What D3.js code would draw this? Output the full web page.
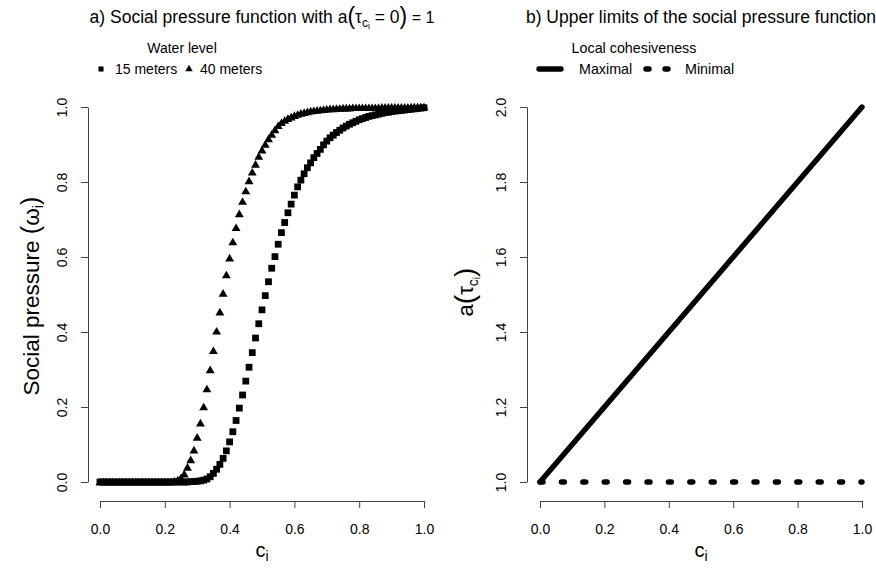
<!DOCTYPE html>
<html>
<head>
<meta charset="utf-8">
<script src="https://cdn.jsdelivr.net/npm/d3@7"></script>
<style>
  html, body { margin: 0; padding: 0; background: #fff; }
  svg { display: block; font-family: "Liberation Sans", Arial, sans-serif; }
</style>
</head>
<body>
<script>
// Cohesion level c_i sampled on a 0.01 grid
const cValues = [
  0.00,0.01,0.02,0.03,0.04,0.05,0.06,0.07,0.08,0.09,
  0.10,0.11,0.12,0.13,0.14,0.15,0.16,0.17,0.18,0.19,
  0.20,0.21,0.22,0.23,0.24,0.25,0.26,0.27,0.28,0.29,
  0.30,0.31,0.32,0.33,0.34,0.35,0.36,0.37,0.38,0.39,
  0.40,0.41,0.42,0.43,0.44,0.45,0.46,0.47,0.48,0.49,
  0.50,0.51,0.52,0.53,0.54,0.55,0.56,0.57,0.58,0.59,
  0.60,0.61,0.62,0.63,0.64,0.65,0.66,0.67,0.68,0.69,
  0.70,0.71,0.72,0.73,0.74,0.75,0.76,0.77,0.78,0.79,
  0.80,0.81,0.82,0.83,0.84,0.85,0.86,0.87,0.88,0.89,
  0.90,0.91,0.92,0.93,0.94,0.95,0.96,0.97,0.98,0.99,
  1.00
];

// Social pressure, water level 15 meters
const pressure15 = [
  0,0,0,0,0,0,0,0,0,0,
  0,0,0,0,0,0,0,0,0,0,
  0,0,0,0,0,0,0,0.000,0.001,0.001,
  0.002,0.003,0.005,0.008,0.014,0.023,0.034,0.047,0.063,0.083,
  0.107,0.134,0.164,0.197,0.232,0.269,0.306,0.345,0.384,0.422,
  0.459,0.497,0.534,0.570,0.601,0.634,0.665,0.692,0.718,0.741,
  0.765,0.787,0.805,0.822,0.838,0.851,0.865,0.876,0.887,0.899,
  0.909,0.918,0.925,0.932,0.938,0.944,0.949,0.954,0.958,0.962,
  0.966,0.969,0.972,0.975,0.977,0.979,0.981,0.983,0.985,0.986,
  0.988,0.989,0.990,0.991,0.992,0.993,0.994,0.995,0.996,0.997,
  0.998
];

// Social pressure, water level 40 meters
const pressure40 = [
  0,0,0,0,0,0,0,0,0,0,
  0,0,0,0,0,0,0,0,0,0,
  0,0,0.000,0.002,0.005,0.011,0.021,0.039,0.059,0.085,
  0.119,0.157,0.200,0.248,0.299,0.350,0.402,0.453,0.503,0.552,
  0.597,0.640,0.678,0.715,0.748,0.776,0.803,0.826,0.847,0.868,
  0.885,0.900,0.915,0.927,0.939,0.950,0.958,0.964,0.969,0.973,
  0.977,0.980,0.983,0.985,0.987,0.989,0.990,0.991,0.992,0.993,
  0.994,0.995,0.995,0.996,0.996,0.997,0.997,0.997,0.998,0.998,
  0.998,0.998,0.998,0.998,0.998,0.998,0.998,0.999,0.999,0.999,
  0.999,0.999,0.999,0.999,0.999,0.999,1.000,1.000,1.000,1.000,
  1.000
];

// Upper limits a(tau) against cohesion
const limitC = [0, 1];
const limitMaximal = [1, 2];
const limitMinimal = [1, 1];

// Tick labels
const xTicks = [0, 0.2, 0.4, 0.6, 0.8, 1.0];
const yTicksA = [0, 0.2, 0.4, 0.6, 0.8, 1.0];
const yTicksB = [1.0, 1.2, 1.4, 1.6, 1.8, 2.0];

const W = 876, H = 571;
const svg = d3.select("body").append("svg").attr("width", W).attr("height", H);
const fmt = d3.format(".1f");
const TICK_FONT = 14;

// Panel scales
const xA = d3.scaleLinear().domain([0, 1]).range([100, 424]);
const yA = d3.scaleLinear().domain([0, 1]).range([482, 107]);
const xB = d3.scaleLinear().domain([0, 1]).range([540, 862]);
const yB = d3.scaleLinear().domain([1, 2]).range([482, 107]);

function styleAxis(g) {
  g.select(".domain").attr("stroke", "#444").attr("stroke-width", 1);
  g.selectAll(".tick line").attr("stroke", "#444").attr("stroke-width", 1);
  g.selectAll(".tick text").attr("fill", "#000").style("font-size", TICK_FONT + "px")
    .style("font-family", '"Liberation Sans", Arial, sans-serif');
}

function drawXAxis(scale, yPos) {
  const g = svg.append("g").attr("transform", `translate(0,${yPos})`)
    .call(d3.axisBottom(scale).tickValues(xTicks).tickFormat(fmt)
      .tickSize(7).tickSizeOuter(0).tickPadding(16));
  styleAxis(g);
}

function drawYAxis(scale, xPos, ticks) {
  const g = svg.append("g").attr("transform", `translate(${xPos},0)`)
    .call(d3.axisLeft(scale).tickValues(ticks).tickFormat(fmt)
      .tickSize(7).tickSizeOuter(0));
  styleAxis(g);
  // labels run parallel to the axis
  g.selectAll(".tick text")
    .attr("x", null).attr("dy", null)
    .attr("text-anchor", "middle")
    .attr("transform", "translate(-21,0) rotate(-90)");
}

drawXAxis(xA, 501);
drawYAxis(yA, 88, yTicksA);
drawXAxis(xB, 501);
drawYAxis(yB, 527, yTicksB);

// ---- Panel a: points ----
const sq = d3.symbol().type(d3.symbolSquare).size(46);
const tri = d3.symbol().type(d3.symbolTriangle).size(34);

svg.append("g").selectAll("path")
  .data(cValues.map((c, i) => [c, pressure15[i]]))
  .join("path")
  .attr("d", sq)
  .attr("transform", d => `translate(${xA(d[0])},${yA(d[1])})`)
  .attr("fill", "#000");

svg.append("g").selectAll("path")
  .data(cValues.map((c, i) => [c, pressure40[i]]))
  .join("path")
  .attr("d", tri)
  .attr("transform", d => `translate(${xA(d[0])},${yA(d[1]) + 0.8})`)
  .attr("fill", "#000");

// ---- Panel b: lines ----
const lineB = d3.line().x(d => xB(d[0])).y(d => yB(d[1]));
svg.append("path")
  .datum(limitC.map((c, i) => [c, limitMaximal[i]]))
  .attr("d", lineB).attr("fill", "none").attr("stroke", "#000")
  .attr("stroke-width", 5.4).attr("stroke-linecap", "round");
svg.append("path")
  .datum(limitC.map((c, i) => [c, limitMinimal[i]]))
  .attr("d", lineB).attr("fill", "none").attr("stroke", "#000")
  .attr("stroke-width", 5.4).attr("stroke-linecap", "round")
  .attr("stroke-dasharray", "3,18.4");

// ---- Titles ----
function addText(x, y, size, anchor) {
  return svg.append("text").attr("x", x).attr("y", y)
    .attr("text-anchor", anchor || "middle").style("font-size", size + "px").attr("fill", "#000");
}

const tA = addText(262, 23, 17.5);
tA.append("tspan").text("a) Social pressure function with a");
tA.append("tspan").style("font-size", "23px").attr("dy", 1).text("(");
tA.append("tspan").attr("dy", -1).text("\u03C4");
tA.append("tspan").style("font-size", "12px").attr("dy", 4).text("c");
tA.append("tspan").style("font-size", "8.5px").attr("dy", 2).text("i");
tA.append("tspan").attr("dy", -6).text(" = 0");
tA.append("tspan").style("font-size", "23px").attr("dy", 1).text(")");
tA.append("tspan").attr("dy", -1).style("font-size", "16px").text(" = 1");

addText(701, 23, 17.5).text("b) Upper limits of the social pressure function");

// ---- Axis titles ----
const xlA = addText(262, 557, 20);
xlA.append("tspan").text("c");
xlA.append("tspan").style("font-size", "14px").attr("dy", 4).text("i");
const xlB = addText(701, 557, 20);
xlB.append("tspan").text("c");
xlB.append("tspan").style("font-size", "14px").attr("dy", 4).text("i");

const ylA = svg.append("text").attr("transform", "translate(39,296) rotate(-90)")
  .attr("text-anchor", "middle").style("font-size", "22.5px");
ylA.append("tspan").text("Social pressure ");
ylA.append("tspan").style("font-size", "25px").text("(");
ylA.append("tspan").text("\u03C9");
ylA.append("tspan").style("font-size", "15px").attr("dy", 4).text("i");
ylA.append("tspan").style("font-size", "25px").attr("dy", -4).text(")");

const ylB = svg.append("text").attr("transform", "translate(473,292) rotate(-90)")
  .attr("text-anchor", "middle").style("font-size", "22px");
ylB.append("tspan").text("a");
ylB.append("tspan").style("font-size", "28px").attr("dy", 1).text("(");
ylB.append("tspan").attr("dy", -1).text("\u03C4");
ylB.append("tspan").style("font-size", "14px").attr("dy", 5).text("c");
ylB.append("tspan").style("font-size", "10px").attr("dy", 2).text("i");
ylB.append("tspan").style("font-size", "28px").attr("dy", -6).text(")");

// ---- Legend a ----
addText(182, 53, 14).text("Water level");
svg.append("path").attr("d", d3.symbol().type(d3.symbolSquare).size(26))
  .attr("transform", "translate(101,69)").attr("fill", "#000");
addText(115, 74, 14, "start").text("15 meters");
svg.append("path").attr("d", d3.symbol().type(d3.symbolTriangle).size(24))
  .attr("transform", "translate(189,69)").attr("fill", "#000");
addText(200, 74, 14, "start").text("40 meters");

// ---- Legend b ----
addText(634, 53, 14.3).text("Local cohesiveness");
svg.append("line").attr("x1", 539).attr("x2", 561).attr("y1", 69).attr("y2", 69)
  .attr("stroke", "#000").attr("stroke-width", 5.4).attr("stroke-linecap", "round");
addText(579, 74, 14.3, "start").text("Maximal");
svg.append("line").attr("x1", 646).attr("x2", 668).attr("y1", 69).attr("y2", 69)
  .attr("stroke", "#000").attr("stroke-width", 5.4).attr("stroke-linecap", "round")
  .attr("stroke-dasharray", "3,16");
addText(685, 74, 14.3, "start").text("Minimal");
</script>
</body>
</html>
